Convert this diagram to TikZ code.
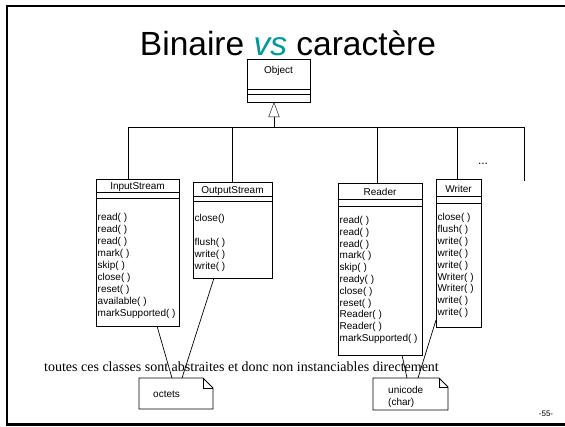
\documentclass[tikz,border=0pt]{standalone}
\usepackage{fontspec}
\setmainfont{Liberation Serif}
\newfontfamily\umlfont{Liberation Sans}
\usetikzlibrary{calc,arrows.meta}

\definecolor{vsteal}{RGB}{0,153,153}

\tikzset{
    umlbox/.style={draw, line width=0.8pt, inner sep=0pt, outer sep=0pt, anchor=north west},
    classname/.style={font=\umlfont\fontsize{10}{12}\selectfont, inner sep=0pt, anchor=base},
    method/.style={font=\umlfont\fontsize{10}{12}\selectfont, inner sep=0pt, anchor=base west},
    notebox/.style={inner sep=0pt, outer sep=0pt, anchor=north west},
    notepath/.style={line width=0.8pt},
    link/.style={line width=0.7pt}
}

\begin{document}
\begin{tikzpicture}[x=1pt, y=-1pt]

    \useasboundingbox (0,0) rectangle (565,426);
    \clip (0,0) rectangle (565,426);

    % Slide frame (right side runs off the page)
    \draw[line width=2.2pt] (590,6) -- (7,6) -- (7,424.5) -- (590,424.5);

    % Title
    \node[anchor=base, inner sep=0pt, font=\umlfont\fontsize{33.5}{40}\selectfont] (title) at (288,55)
        {Binaire \textcolor{vsteal}{\textit{vs}} caractère};

    % Class Object
    \node[umlbox, minimum width=63, minimum height=43] (object) at (247,59) {};
    \draw ($(object.north west)+(0,30)$) -- ($(object.north east)+(0,30)$);
    \draw ($(object.north west)+(0,35.5)$) -- ($(object.north east)+(0,35.5)$);
    \node[classname] at ($(object.north)+(0,14.5)$) {Object};

    % Class InputStream
    \node[umlbox, minimum width=83, minimum height=147] (input) at (96,179) {};
    \draw ($(input.north west)+(0,13)$) -- ($(input.north east)+(0,13)$);
    \draw ($(input.north west)+(0,19)$) -- ($(input.north east)+(0,19)$);
    \node[classname] at ($(input.north)+(0,10.5)$) {InputStream};
    \foreach \m [count=\i] in {read( ),read( ),read( ),mark( ),skip( ),close( ),reset( ),available( ),markSupported( )}
        \node[method] at (97.5,{220.5+12*(\i-1)}) {\m};

    % Class OutputStream
    \node[umlbox, minimum width=79, minimum height=96] (output) at (193,182) {};
    \draw ($(output.north west)+(0,14)$) -- ($(output.north east)+(0,14)$);
    \draw ($(output.north west)+(0,19)$) -- ($(output.north east)+(0,19)$);
    \node[classname] at ($(output.north)+(0,11)$) {OutputStream};
    \foreach \m [count=\i] in {close(),{},flush( ),write( ),write( )}
        \node[method] at (194.5,{221.5+12*(\i-1)}) {\m};

    % Class Reader
    \node[umlbox, minimum width=84, minimum height=172] (reader) at (338,183) {};
    \draw ($(reader.north west)+(0,16)$) -- ($(reader.north east)+(0,16)$);
    \draw ($(reader.north west)+(0,23)$) -- ($(reader.north east)+(0,23)$);
    \node[classname] at ($(reader.north)+(0,12.5)$) {Reader};
    \foreach \m [count=\i] in {read( ),read( ),read( ),mark( ),skip( ),ready( ),close( ),reset( ),Reader( ),Reader( ),markSupported( )}
        \node[method] at (339.5,{223.5+11.8*(\i-1)}) {\m};

    % Class Writer
    \node[umlbox, minimum width=45, minimum height=148] (writer) at (436,179) {};
    \draw ($(writer.north west)+(0,17)$) -- ($(writer.north east)+(0,17)$);
    \draw ($(writer.north west)+(0,24)$) -- ($(writer.north east)+(0,24)$);
    \node[classname] at ($(writer.north)+(0,13)$) {Writer};
    \foreach \m [count=\i] in {close( ),flush( ),write( ),write( ),write( ),Writer( ),Writer( ),write( ),write( )}
        \node[method] at (437.5,{220.5+11.9*(\i-1)}) {\m};

    % Inheritance tree
    \coordinate (hub) at (274,127);
    \coordinate (bus west) at (128,127);
    \coordinate (bus east) at (524,127);
    \coordinate (more) at (524,181);
    \draw[-{Triangle[open, length=15pt, width=11pt]}] (hub) -- (hub |- object.south);
    \draw (bus west) -- (bus east);
    \draw (bus west) -- (bus west |- input.north);
    \draw (232,127) -- (232,127 |- output.north);
    \draw (377,127) -- (377,127 |- reader.north);
    \draw (457,127) -- (457,127 |- writer.north);
    \draw (bus east) -- (more);
    \node[font=\umlfont\fontsize{12}{14}\selectfont, inner sep=0pt, anchor=base] (dots) at (483,164) {...};

    % Notes
    \node[notebox, minimum width=74, minimum height=31] (octets) at (139,378) {};
    \draw[notepath] (octets.north west) -- ($(octets.north east)+(-10,0)$) -- ($(octets.north east)+(0,10)$)
        -- (octets.south east) -- (octets.south west) -- cycle;
    \draw[notepath] ($(octets.north east)+(-10,0)$) -- ($(octets.north east)+(-10,10)$) -- ($(octets.north east)+(0,10)$);
    \node[method] at (153,397) {octets};

    \node[notebox, minimum width=75, minimum height=32] (unicode) at (373,378) {};
    \draw[notepath] (unicode.north west) -- ($(unicode.north east)+(-9,0)$) -- ($(unicode.north east)+(0,9)$)
        -- (unicode.south east) -- (unicode.south west) -- cycle;
    \draw[notepath] ($(unicode.north east)+(-9,0)$) -- ($(unicode.north east)+(-9,9)$) -- ($(unicode.north east)+(0,9)$);
    \node[method] at (388,393.5) {unicode};
    \node[method] at (388,405) {(char)};

    % Links to the notes
    \draw[link] ($(input.south west)+(61,0)$) -- ($(octets.north west)+(33,0)$);
    \draw[link] ($(output.south west)+(21,0)$) -- ($(octets.north west)+(43,0)$);
    \draw[link] ($(reader.south west)+(64,0)$) -- ($(unicode.north west)+(34,0)$);
    \draw[link] ($(writer.south west)+(0,-7)$) -- ($(unicode.north west)+(45,0)$);

    % Remark under the classes
    \node[anchor=base west, inner sep=0pt, font=\fontsize{14}{16}\selectfont] (remark) at (44,371)
        {toutes ces classes sont abstraites et donc non instanciables directement};

    % Page number
    \node[inner sep=0pt, font=\umlfont\fontsize{8}{9}\selectfont] (page) at (546,414) {-55-};

\end{tikzpicture}
\end{document}
